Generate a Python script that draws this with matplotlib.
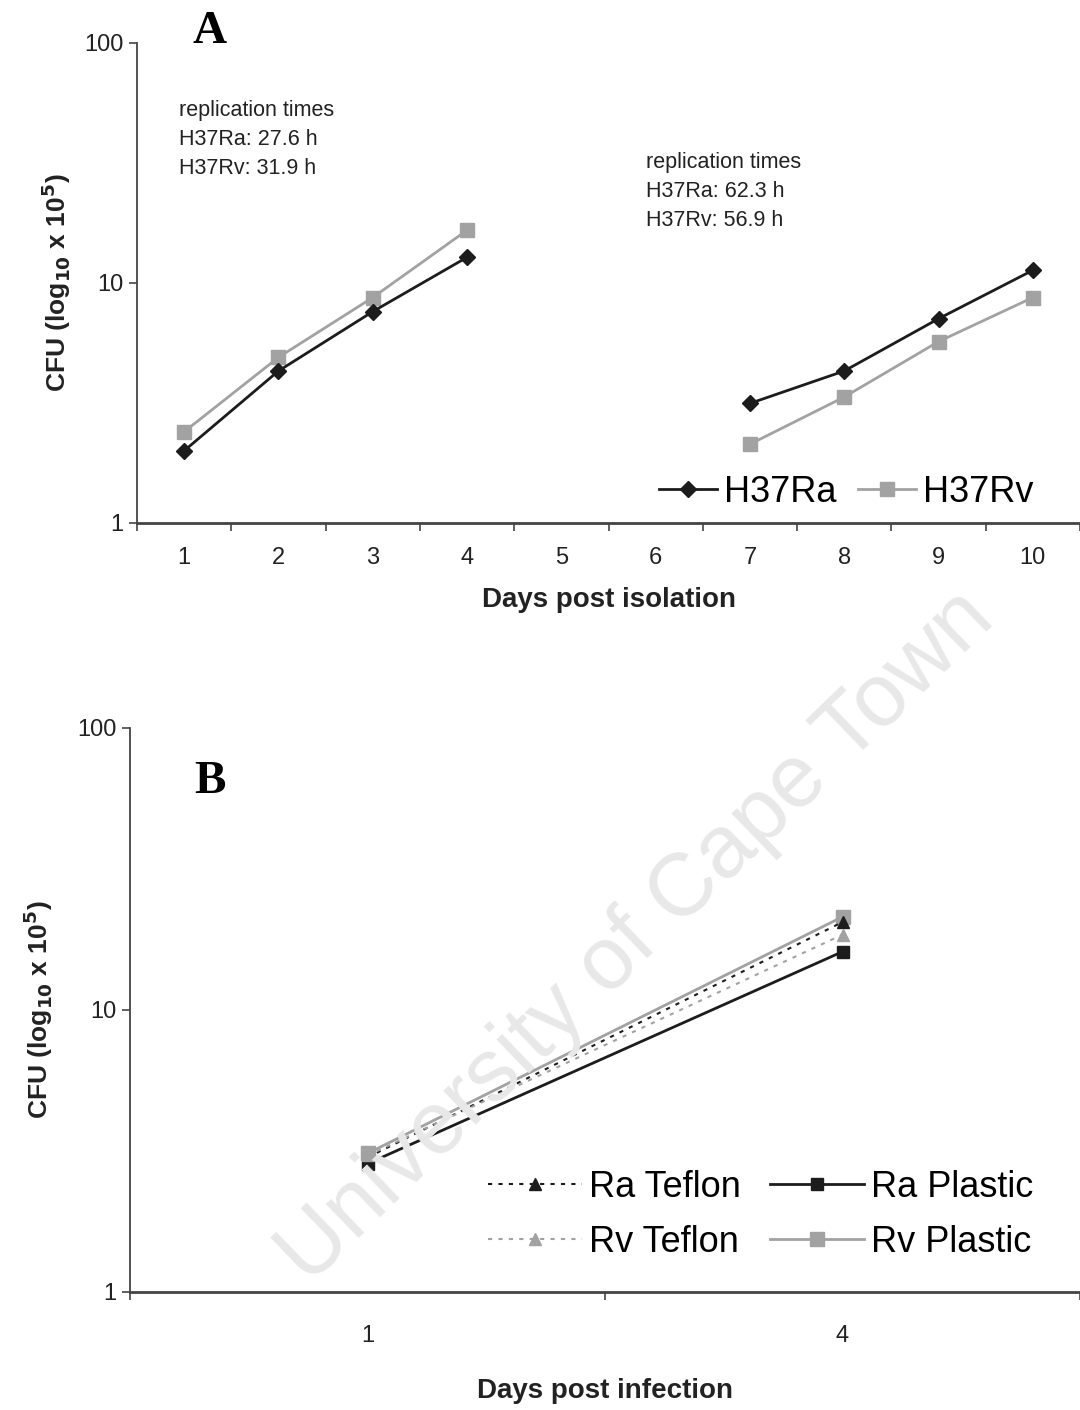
import numpy as np
import matplotlib
matplotlib.use("Agg")
import matplotlib.pyplot as plt
from matplotlib.ticker import FixedLocator, NullFormatter, FixedFormatter, NullLocator

plt.rcParams['font.family'] = ['Liberation Sans', 'DejaVu Sans']

# panel A data (CFU x 10^5), gap at days 5-6
days_a = [1, 2, 3, 4, 5, 6, 7, 8, 9, 10]
h37ra = [2.0, 4.3, 7.6, 12.8, np.nan, np.nan, 3.15, 4.3, 7.1, 11.3]
h37rv = [2.4, 4.9, 8.7, 16.6, np.nan, np.nan, 2.13, 3.35, 5.7, 8.7]

# panel B data
days_b = ["1", "4"]
ra_teflon = [3.0, 20.5]
rv_teflon = [3.05, 18.5]
ra_plastic = [2.85, 16.1]
rv_plastic = [3.1, 21.4]

DARK = "#1c1c1c"
GREY = "#a2a2a2"
AXC = "#444444"
TXT = "#222222"

fig = plt.figure(figsize=(10.8, 14.1), dpi=100)

def style_axis(ax, ncat, labels):
    ax.set_yscale("log")
    ax.set_ylim(1, 100)
    ax.set_xlim(0.5, ncat + 0.5)
    ax.yaxis.set_major_locator(FixedLocator([1, 10, 100]))
    ax.yaxis.set_major_formatter(FixedFormatter(["1", "10", "100"]))
    ax.yaxis.set_minor_locator(NullLocator())
    ax.xaxis.set_major_locator(FixedLocator(np.arange(0.5, ncat + 1, 1.0)))
    ax.xaxis.set_major_formatter(NullFormatter())
    ax.xaxis.set_minor_locator(FixedLocator(np.arange(1, ncat + 1)))
    ax.xaxis.set_minor_formatter(FixedFormatter(labels))
    ax.tick_params(axis="x", which="major", length=6, width=1.2, color=AXC)
    ax.tick_params(axis="x", which="minor", length=0, pad=17, labelsize=17, labelcolor=TXT)
    ax.tick_params(axis="y", which="major", length=6, width=1.2, color=AXC, labelsize=17, labelcolor=TXT)
    for s in ["top", "right"]:
        ax.spines[s].set_visible(False)
    ax.spines["left"].set_color(AXC)
    ax.spines["left"].set_linewidth(1.3)
    ax.spines["bottom"].set_color(AXC)
    ax.spines["bottom"].set_linewidth(2.0)
    ax.patch.set_alpha(0)

# watermark
fig.text(0.59, 0.335, "University of Cape Town", fontsize=64, color="#e8e8e8",
         rotation=44, ha="center", va="center", zorder=0)

# ---- panel A
axA = fig.add_axes([137 / 1080, 1 - 523 / 1410, 1 - 137 / 1080, (523 - 43) / 1410])
style_axis(axA, len(days_a), [str(d) for d in days_a])
axA.plot(days_a, h37ra, color=DARK, lw=2, marker="D", ms=8, label="H37Ra", zorder=3)
axA.plot(days_a, h37rv, color=GREY, lw=2, marker="s", ms=10, label="H37Rv", zorder=2)
axA.set_xlabel("Days post isolation", fontsize=20, fontweight="bold", labelpad=13, color=TXT)
axA.set_ylabel("CFU (log$_{\\mathbf{10}}$ x 10$^{\\mathbf{5}}$)", fontsize=19, fontweight="bold", labelpad=8, color=TXT)
axA.text(0.95, 58, "replication times\nH37Ra: 27.6 h\nH37Rv: 31.9 h", fontsize=15.5, va="top",
         linespacing=1.5, color=TXT)
axA.text(5.9, 35, "replication times\nH37Ra: 62.3 h\nH37Rv: 56.9 h", fontsize=15.5, va="top",
         linespacing=1.5, color=TXT)
axA.legend(loc="lower right", bbox_to_anchor=(0.978, -0.025), ncol=2, frameon=False, fontsize=26,
           handlelength=1.6, handletextpad=0.2, columnspacing=0.6, borderaxespad=0.3)
fig.text(210 / 1080, 1 - 32 / 1410, "A", fontsize=34, fontweight="bold",
         family="Liberation Serif", ha="center", va="center")

# ---- panel B
axB = fig.add_axes([130 / 1080, 1 - 1292 / 1410, 1 - 130 / 1080, (1292 - 728) / 1410])
style_axis(axB, len(days_b), days_b)
xb = [1, 2]
axB.plot(xb, ra_teflon, color=DARK, lw=1.5, ls=(0, (2, 3)), marker="^", ms=8, label="Ra Teflon", zorder=3)
axB.plot(xb, rv_teflon, color=GREY, lw=1.5, ls=(0, (2, 3)), marker="^", ms=8, label="Rv Teflon", zorder=3)
axB.plot(xb, ra_plastic, color=DARK, lw=2, marker="s", ms=9, label="Ra Plastic", zorder=2)
axB.plot(xb, rv_plastic, color=GREY, lw=2, marker="s", ms=10, label="Rv Plastic", zorder=2)
axB.tick_params(axis="x", which="minor", pad=24)
axB.set_xlabel("Days post infection", fontsize=20, fontweight="bold", labelpad=22, color=TXT)
axB.set_ylabel("CFU (log$_{\\mathbf{10}}$ x 10$^{\\mathbf{5}}$)", fontsize=19, fontweight="bold", labelpad=16, color=TXT)
axB.legend(loc="lower right", bbox_to_anchor=(0.985, 0.0), ncol=2, frameon=False, fontsize=26,
           handlelength=2.6, handletextpad=0.2, columnspacing=0.8, labelspacing=0.55)
fig.text(210 / 1080, 1 - 782 / 1410, "B", fontsize=34, fontweight="bold",
         family="Liberation Serif", ha="center", va="center")

fig.savefig("out.png", dpi=100, facecolor="white")
